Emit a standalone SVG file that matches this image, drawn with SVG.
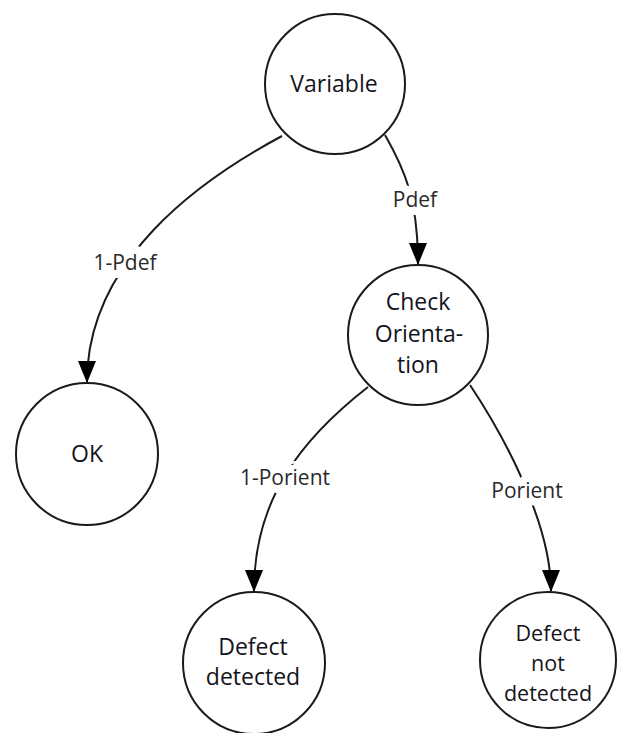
<svg xmlns="http://www.w3.org/2000/svg" width="617" height="733" viewBox="0 0 617 733">
  <style>
    .node circle { fill: #ffffff; stroke: #1a1a1a; stroke-width: 2; }
    .node text { font-family: "Open Sans", "Liberation Sans", sans-serif; font-size: 23px; fill: #141420; text-anchor: middle; }
    .node text.tight { font-size: 21.5px; }
    .edge { fill: none; stroke: #1a1a1a; stroke-width: 2; marker-end: url(#arrow); }
    .label { font-family: "Open Sans", "Liberation Sans", sans-serif; font-size: 21px; fill: #2a2a2a; text-anchor: middle; stroke: #ffffff; stroke-width: 16; paint-order: stroke; stroke-linejoin: round; }
  </style>
  <defs>
    <marker id="arrow" viewBox="0 0 22 18" refX="21" refY="9" markerWidth="22" markerHeight="18" markerUnits="userSpaceOnUse" orient="auto">
      <path d="M0,0 L22,9 L0,18 Z" fill="#000000"/>
    </marker>
  </defs>
  <rect width="617" height="733" fill="#ffffff"/>

  <g id="connectors">
    <path class="edge" d="M282,136 C200,180 87,260 87,382"/>
    <path class="edge" d="M385,135 C405,170 418,200 418,264"/>
    <path class="edge" d="M368,387 C300,440 254,500 254,591"/>
    <path class="edge" d="M470,385 C500,430 551,520 551,591"/>
    <text class="label" x="125" y="270">1-Pdef</text>
    <text class="label" x="415" y="207">Pdef</text>
    <text class="label" x="285" y="485">1-Porient</text>
    <text class="label" x="527" y="498">Porient</text>
  </g>

  <g id="variable" class="node">
    <circle cx="335" cy="84" r="70"/>
    <text x="334" y="92">Variable</text>
  </g>

  <g id="ok" class="node">
    <circle cx="87" cy="454" r="71"/>
    <text x="87" y="462">OK</text>
  </g>

  <g id="check-orientation" class="node">
    <circle cx="418" cy="335" r="70"/>
    <text x="418" y="310">Check</text>
    <text x="419" y="342">Orienta-</text>
    <text x="418" y="373">tion</text>
  </g>

  <g id="defect-detected" class="node">
    <circle cx="254" cy="663" r="71"/>
    <text x="253" y="655">Defect</text>
    <text x="253" y="685">detected</text>
  </g>

  <g id="defect-not-detected" class="node">
    <circle cx="548" cy="660" r="68"/>
    <text class="tight" x="548" y="641">Defect</text>
    <text class="tight" x="548" y="671">not</text>
    <text class="tight" x="548" y="701">detected</text>
  </g>
</svg>
